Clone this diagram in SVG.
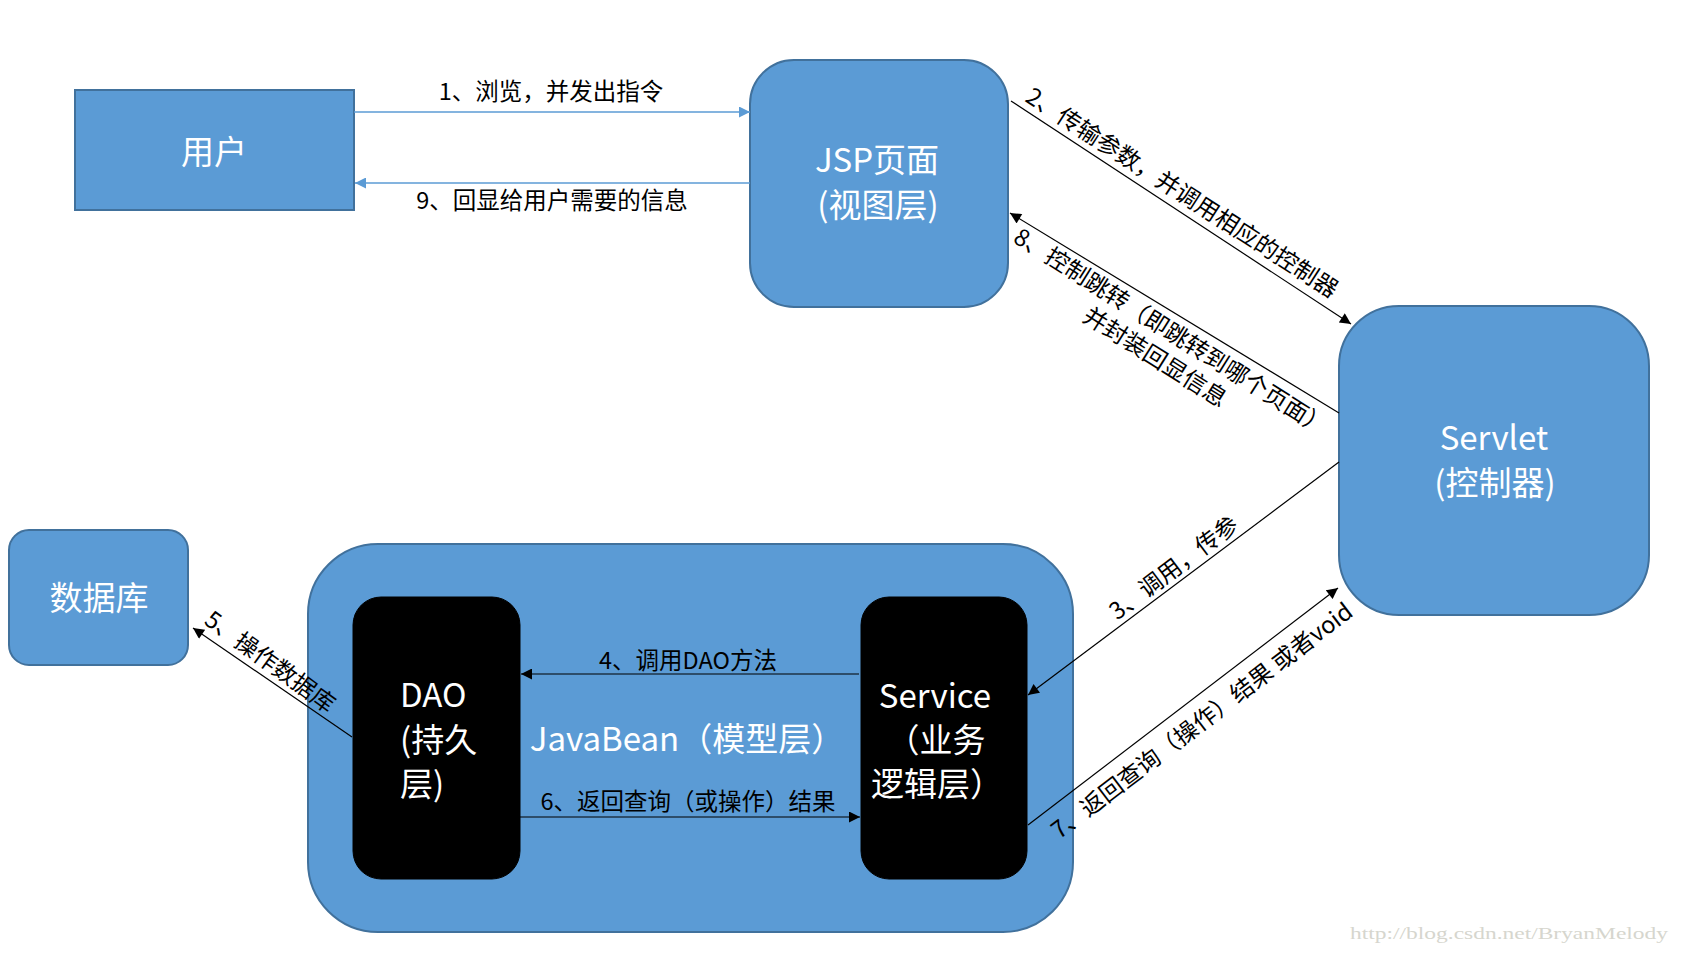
<svg xmlns="http://www.w3.org/2000/svg" width="1681" height="955" viewBox="0 0 1681 955">
<style>
.box{fill:#5B9BD5;stroke:#41719C;stroke-width:2}
.blk{fill:#000;stroke:#000;stroke-width:1}
.nt{font-family:"Noto Sans CJK SC","Noto Sans",sans-serif;fill:#fff;font-size:33px}
.lb{font-family:"Noto Sans CJK SC","Noto Sans",sans-serif;fill:#000;font-size:23.5px}
.ln{stroke:#000;stroke-width:1.2;fill:none;marker-end:url(#ah)}
.lnb{stroke:#5B9BD5;stroke-width:1.5;fill:none;marker-end:url(#ahb)}
</style>
<defs>
<marker id="ah" viewBox="0 0 10 10" refX="10" refY="5" markerWidth="13" markerHeight="11" markerUnits="userSpaceOnUse" orient="auto"><path d="M0,0 L10,5 L0,10 Z" fill="#000"/></marker>
<marker id="ahb" viewBox="0 0 10 10" refX="10" refY="5" markerWidth="12" markerHeight="11" markerUnits="userSpaceOnUse" orient="auto"><path d="M0,0 L10,5 L0,10 Z" fill="#5B9BD5"/></marker>
</defs>
<rect width="1681" height="955" fill="#fff"/>

<g id="user">
<rect class="box" x="75" y="90" width="279" height="120"/>
<text class="nt" x="214" y="164" text-anchor="middle" font-size="34">用户</text>
</g>

<g id="jsp">
<rect class="box" x="750" y="60" width="258" height="247" rx="44" ry="44"/>
<text class="nt" x="877" y="172" text-anchor="middle">JSP页面</text>
<text class="nt" x="878" y="217" text-anchor="middle">(视图层)</text>
</g>

<g id="servlet">
<rect class="box" x="1339" y="306" width="310" height="309" rx="60" ry="60"/>
<text class="nt" x="1494" y="450" text-anchor="middle">Servlet</text>
<text class="nt" x="1495" y="495" text-anchor="middle">(控制器)</text>
</g>

<g id="database">
<rect class="box" x="9" y="530" width="179" height="135" rx="20" ry="20"/>
<text class="nt" x="99" y="610" text-anchor="middle" font-size="35">数据库</text>
</g>

<g id="javabean">
<rect class="box" x="308" y="544" width="765" height="388" rx="70" ry="70"/>
<text class="nt" x="687" y="751" text-anchor="middle">JavaBean（模型层）</text>
</g>

<g id="dao">
<rect class="blk" x="353" y="597" width="167" height="282" rx="28" ry="28"/>
<text class="nt" x="400" y="707">DAO</text>
<text class="nt" x="400" y="752">(持久</text>
<text class="nt" x="400" y="796">层)</text>
</g>

<g id="service">
<rect class="blk" x="861" y="597" width="166" height="282" rx="28" ry="28"/>
<text class="nt" x="935" y="708" text-anchor="middle">Service</text>
<text class="nt" x="936" y="752" text-anchor="middle">（业务</text>
<text class="nt" x="937" y="796" text-anchor="middle">逻辑层）</text>
</g>

<g id="connectors">
<line class="lnb" x1="354" y1="112" x2="750" y2="112"/>
<text class="lb" x="551" y="100" text-anchor="middle">1、浏览，并发出指令</text>
<line class="lnb" x1="750" y1="183" x2="355" y2="183"/>
<text class="lb" x="552" y="209" text-anchor="middle">9、回显给用户需要的信息</text>

<line class="ln" x1="1011" y1="101" x2="1351" y2="324"/>
<text class="lb" text-anchor="middle" transform="translate(1182,193) rotate(32.8)" y="8">2、传输参数，并调用相应的控制器</text>

<line class="ln" x1="1339" y1="413" x2="1010" y2="213"/>
<text class="lb" text-anchor="middle" transform="translate(1171,332) rotate(32.2)" y="8">8、控制跳转（即跳转到哪个页面）<tspan x="0" dy="30">并封装回显信息</tspan></text>

<line class="ln" x1="1339" y1="462" x2="1028" y2="695"/>
<text class="lb" text-anchor="middle" transform="translate(1174,568) rotate(-37)" y="8">3、调用，传参</text>

<line class="ln" x1="1028" y1="825" x2="1338" y2="588"/>
<text class="lb" text-anchor="middle" transform="translate(1202,721) rotate(-37.3)" y="8">7、返回查询（操作）结果 或者void</text>

<line class="ln" x1="859" y1="674" x2="521" y2="674"/>
<text class="lb" x="688" y="669" text-anchor="middle">4、调用DAO方法</text>

<line class="ln" x1="520" y1="817" x2="860" y2="817"/>
<text class="lb" x="688" y="810" text-anchor="middle">6、返回查询（或操作）结果</text>

<line class="ln" x1="352" y1="737" x2="193" y2="628"/>
<text class="lb" text-anchor="middle" transform="translate(270,662) rotate(36)" y="8">5、操作数据库</text>
</g>

<text x="1350" y="939" font-family="Liberation Serif,serif" font-size="17" fill="#d6d6ce" textLength="318" lengthAdjust="spacingAndGlyphs">http://blog.csdn.net/BryanMelody</text>
</svg>
